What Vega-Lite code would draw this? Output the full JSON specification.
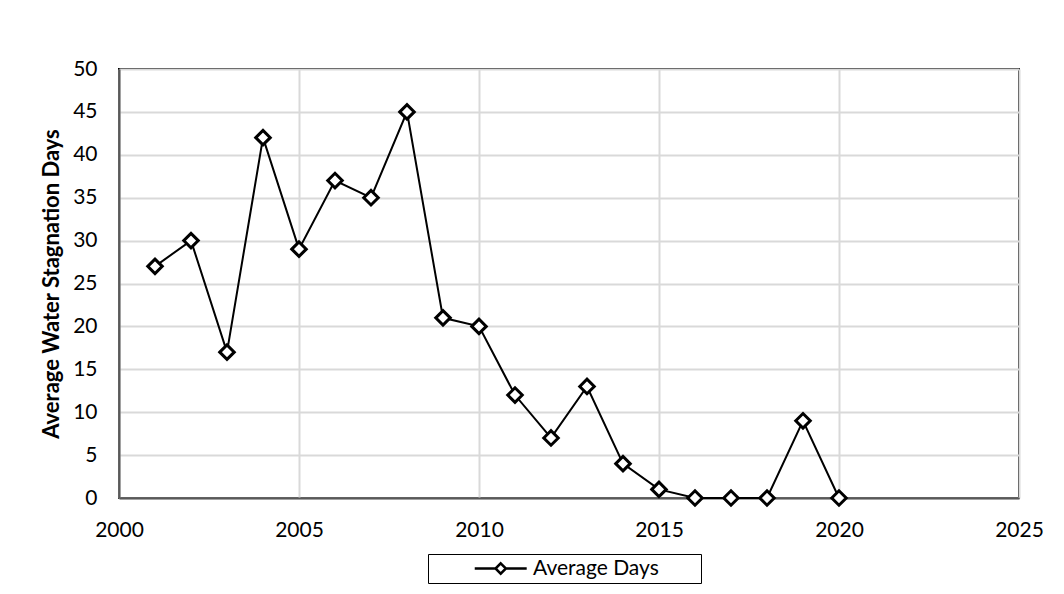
{
  "$schema": "https://vega.github.io/schema/vega-lite/v6.json",
  "width": 900,
  "height": 429,
  "autosize": {"type": "none"},
  "padding": {"left": 119, "top": 69, "right": 45, "bottom": 96},
  "background": "white",
  "config": {
    "font": "Lato",
    "view": {"stroke": "black", "strokeWidth": 2},
    "axis": {
      "labelFont": "Lato",
      "labelFontSize": 21,
      "labelColor": "black",
      "ticks": false,
      "domainColor": "#595959",
      "domainWidth": 2,
      "gridColor": "#d9d9d9",
      "gridWidth": 2
    }
  },
  "data": {
    "values": [
      {"year": 2001, "days": 27},
      {"year": 2002, "days": 30},
      {"year": 2003, "days": 17},
      {"year": 2004, "days": 42},
      {"year": 2005, "days": 29},
      {"year": 2006, "days": 37},
      {"year": 2007, "days": 35},
      {"year": 2008, "days": 45},
      {"year": 2009, "days": 21},
      {"year": 2010, "days": 20},
      {"year": 2011, "days": 12},
      {"year": 2012, "days": 7},
      {"year": 2013, "days": 13},
      {"year": 2014, "days": 4},
      {"year": 2015, "days": 1},
      {"year": 2016, "days": 0},
      {"year": 2017, "days": 0},
      {"year": 2018, "days": 0},
      {"year": 2019, "days": 9},
      {"year": 2020, "days": 0}
    ]
  },
  "encoding": {
    "x": {
      "field": "year",
      "type": "quantitative",
      "scale": {"domain": [2000, 2025], "nice": false, "zero": false},
      "axis": {
        "values": [2000, 2005, 2010, 2015, 2020, 2025],
        "format": "d",
        "title": null,
        "labelPadding": 21,
        "labelFlush": false
      }
    },
    "y": {
      "field": "days",
      "type": "quantitative",
      "scale": {"domain": [0, 50], "nice": false},
      "axis": {
        "values": [0, 5, 10, 15, 20, 25, 30, 35, 40, 45, 50],
        "title": "Average Water Stagnation Days",
        "titleFont": "Lato",
        "titleFontSize": 22,
        "titleFontWeight": "bold",
        "titleColor": "black",
        "titlePadding": 9,
        "labelPadding": 22
      }
    }
  },
  "layer": [
    {
      "mark": {"type": "line", "strokeWidth": 2},
      "encoding": {
        "color": {
          "datum": "Average Days",
          "type": "nominal",
          "scale": {"range": ["black"]},
          "legend": {
            "title": null,
            "orient": "none",
            "legendX": 309,
            "legendY": 485,
            "direction": "horizontal",
            "strokeColor": "black",
            "fillColor": "white",
            "padding": 4,
            "symbolOffset": 79,
            "symbolType": "M-9,0L-5,0M-3,0L1,0M-4,-1L-3,0L-4,1L-5,0ZM32.8,0",
            "symbolSize": 108,
            "symbolStrokeColor": "black",
            "symbolFillColor": "white",
            "symbolStrokeWidth": 2.5,
            "labelFont": "Lato",
            "labelFontSize": 21,
            "labelColor": "black",
            "labelOffset": 1,
            "labelLimit": 400
          }
        }
      }
    },
    {
      "mark": {
        "type": "point",
        "shape": "diamond",
        "filled": true,
        "fill": "white",
        "stroke": "black",
        "strokeWidth": 3,
        "size": 210,
        "opacity": 1
      }
    }
  ]
}
